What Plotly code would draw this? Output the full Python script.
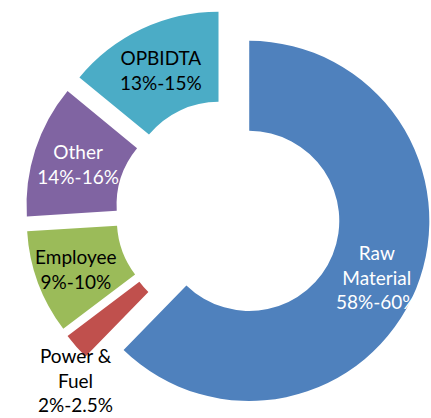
import plotly.graph_objects as go

categories = ["Raw Material", "Power & Fuel", "Employee", "Other", "OPBIDTA"]
values = [62.1, 2.4, 9.3, 11.9, 14.0]
label_texts = ["Raw<br>Material<br>58%-60%", "Power &<br>Fuel<br>2%-2.5%",
               "Employee<br>9%-10%", "Other<br>14%-16%", "OPBIDTA<br>13%-15%"]
colors = ["#4F81BD", "#C0504D", "#9BBB59", "#8064A2", "#4BACC6"]
text_colors = ["white", "black", "black", "white", "black"]
text_positions = ["none", "none", "inside", "inside", "inside"]

FONT = "Lato"
SIZE = 19
W, H = 431, 418

fig = go.Figure(go.Pie(
    labels=categories,
    values=values,
    text=label_texts,
    textinfo="text",
    textposition=text_positions,
    insidetextorientation="horizontal",
    sort=False,
    direction="clockwise",
    rotation=0,
    hole=0.5,
    pull=0.126,
    marker=dict(colors=colors, line=dict(width=0)),
    textfont=dict(family=FONT, size=SIZE, color=text_colors),
    domain=dict(x=[25.4 / W, 1], y=[0.005, 0.979]),
    showlegend=False,
))

# labels placed like the original chart
label_spots = {0: (377, 277), 1: (75, 380)}
for i, (px, py) in label_spots.items():
    fig.add_annotation(
        text=label_texts[i], x=px / W, y=1 - py / H,
        xref="paper", yref="paper", showarrow=False,
        xanchor="center", yanchor="middle",
        font=dict(family=FONT, size=SIZE, color=text_colors[i]),
        align="center",
    )

fig.update_layout(
    width=W, height=H,
    margin=dict(l=0, r=0, t=0, b=0),
    paper_bgcolor="white",
    plot_bgcolor="white",
    uniformtext=dict(minsize=SIZE, mode="show"),
)

fig.write_html(
    "out.html",
    config={"displayModeBar": False},
    post_script="document.body.style.margin='0';document.body.style.overflow='hidden';",
)
